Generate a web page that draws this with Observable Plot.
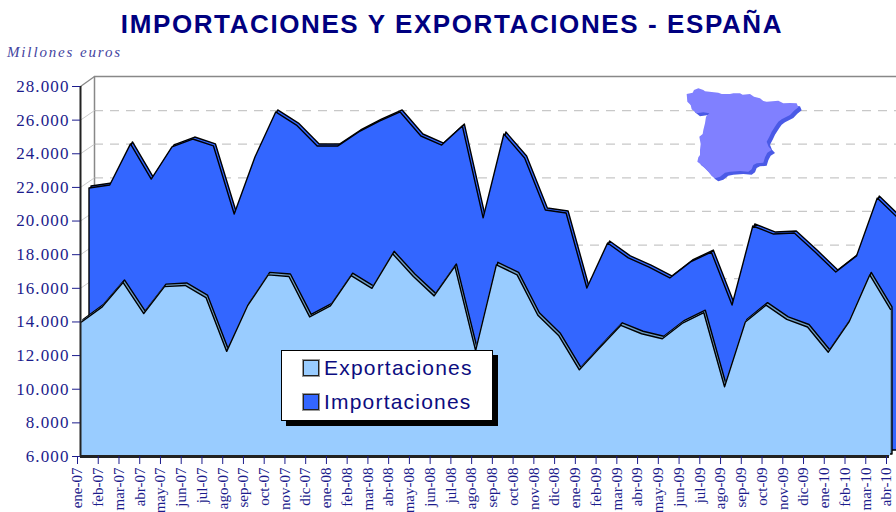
<!DOCTYPE html>
<html><head><meta charset="utf-8">
<script src="https://cdn.jsdelivr.net/npm/d3@7"></script>
<script src="https://cdn.jsdelivr.net/npm/@observablehq/plot@0.6"></script>
<style>
html,body{margin:0;padding:0;background:#fff;overflow:hidden;width:896px;height:512px}
#wrap{position:relative;width:896px;height:512px;overflow:hidden}
#title{position:absolute;left:0;width:904px;top:9px;text-align:center;font:bold 26px "Liberation Sans";letter-spacing:1.6px;color:#000080;white-space:nowrap}
#unit{position:absolute;left:7px;top:44px;font:italic 15px "Liberation Serif";letter-spacing:1.85px;color:#4444a0}
#legend{position:absolute;left:281px;top:350px;width:210px;height:69px;background:#fff;border:1px solid #000;box-shadow:5px 5px 0 #000;font:21px "Liberation Sans";letter-spacing:1.2px;color:#0c0c80}
#legend div{position:absolute;left:21px;white-space:nowrap;display:flex;align-items:center;gap:5px}
#legend i{display:block;width:14px;height:14px;border:1.5px solid #222;outline:1px solid #999}
#map{position:absolute;left:650px;top:70px}
[aria-label="y-axis tick label"] text{letter-spacing:1.1px}
</style></head><body>
<div id="wrap">
<div id="chart"></div>
<svg id="map" width="246" height="130" viewBox="0 0 738 390">
<polygon id="mapShadow" fill="#4a5ae6" transform="translate(10,9)"/>
<polygon id="mapFace" fill="#8080ff"/>
</svg>
<div id="title">IMPORTACIONES Y EXPORTACIONES - ESPAÑA</div>
<div id="unit">Millones euros</div>
<div id="legend">
<div style="top:5px"><i style="background:#99ccff"></i>Exportaciones</div>
<div style="top:39px"><i style="background:#3366ff"></i>Importaciones</div>
</div>
</div>
<script>
const months = ["ene-07","feb-07","mar-07","abr-07","may-07","jun-07","jul-07","ago-07","sep-07","oct-07","nov-07","dic-07",
"ene-08","feb-08","mar-08","abr-08","may-08","jun-08","jul-08","ago-08","sep-08","oct-08","nov-08","dic-08",
"ene-09","feb-09","mar-09","abr-09","may-09","jun-09","jul-09","ago-09","sep-09","oct-09","nov-09","dic-09",
"ene-10","feb-10","mar-10","abr-10"];
const exportaciones = [14000,14900,16350,14500,16100,16170,15450,12250,14950,16800,16700,14300,14950,16750,16000,18050,16700,15550,17300,12300,17400,16800,14400,13200,11150,12500,13800,13300,13000,13950,14550,10150,14000,15000,14150,13700,12200,14000,16800,14750];
const importaciones = [21580,21760,24200,22110,24020,24490,24080,20030,23420,26100,25320,24080,24080,24910,25560,26100,24670,24130,25260,19800,24790,23360,20270,20090,15630,18310,17420,16880,16230,17180,17770,14620,19320,18840,18900,17770,16580,17540,20980,19790];
const yTicks = [6000,8000,10000,12000,14000,16000,18000,20000,22000,24000,26000,28000];
const gridTicks = [8000,10000,12000,14000,16000,18000,20000,22000,24000,26000];
const spainOutline = [[110,72],[128,68],[132,60],[145,55],[160,60],[165,64],[205,68],[215,72],[240,72],[250,70],[270,70],[278,74],[300,72],[312,80],[330,85],[340,93],[350,95],[385,92],[400,100],[420,99],[440,100],[445,112],[432,122],[420,135],[395,148],[385,155],[378,165],[365,185],[358,200],[350,215],[356,230],[365,240],[352,248],[345,262],[340,278],[320,280],[310,285],[305,298],[295,305],[270,303],[240,305],[225,308],[210,320],[195,325],[185,318],[175,305],[160,290],[155,285],[142,275],[145,262],[150,255],[150,240],[152,222],[148,200],[158,192],[160,180],[165,160],[168,140],[178,130],[160,127],[140,130],[125,118],[122,105],[112,95]];

const pts = spainOutline.map(p=>p.join(",")).join(" ");
document.getElementById("mapShadow").setAttribute("points",pts);
document.getElementById("mapFace").setAttribute("points",pts);

const exp = exportaciones.map((v,i)=>({i,v}));
const imp = importaciones.map((v,i)=>({i,v}));
const fmt = v => d3.format(",")(v).replace(",",".");
const navy = "#1c1c8c";
const base = 6000;

const chart = Plot.plot({
  width:896, height:512,
  marginTop:86, marginBottom:56, marginLeft:80, marginRight:7,
  style:{background:"transparent",overflow:"hidden"},
  x:{type:"linear",domain:[0,39]},
  y:{domain:[6000,28000]},
  marks:[
    Plot.ruleY(gridTicks,{x1:0,x2:39,dx:14,dy:-9.6,stroke:"#c8c8c8",strokeWidth:1.3,strokeDasharray:"9 7"}),
    Plot.ruleY([28000],{x1:0,x2:39,dx:14,dy:-10,stroke:"#888",strokeWidth:1.5}),
    Plot.ruleX([0],{y1:6000,y2:28000,dx:14,dy:-10,stroke:"#888",strokeWidth:1.5}),
    Plot.link(gridTicks,{x1:()=>0,x2:()=>14/20.74,y1:d=>d,y2:d=>d+570,stroke:"#ccc",strokeWidth:1}),
    Plot.link([28000],{x1:()=>0,x2:()=>14/20.74,y1:d=>d,y2:d=>d+590,stroke:"#888",strokeWidth:1.3}),
    Plot.areaY(imp,{x:"i",y1:base,y2:"v",dx:11,dy:-8,fill:"#3366ff",stroke:"#000",strokeWidth:1.4}),
    Plot.areaY(imp,{x:"i",y1:base,y2:"v",dx:9,dy:-6,fill:"#3366ff",stroke:"#000",strokeWidth:1.4}),
    Plot.areaY(exp,{x:"i",y1:base,y2:"v",dx:3,dy:-2,fill:"#6f9fc8",stroke:"#000",strokeWidth:1.4}),
    Plot.areaY(exp,{x:"i",y1:base,y2:"v",dx:1,fill:"#99ccff"}),
    Plot.lineY(exp,{x:"i",y:"v",dx:1,stroke:"#000",strokeWidth:1.4}),
    Plot.ruleY([6000],{stroke:"#222",strokeWidth:3}),
    Plot.ruleX([0],{stroke:"#222",strokeWidth:2}),
    Plot.axisY({ticks:yTicks,tickFormat:fmt,tickSize:8,tickPadding:3,fontSize:17,fontFamily:"Liberation Serif",color:navy,tickStroke:"#000",label:null}),
    Plot.axisX({ticks:d3.range(40),tickFormat:i=>months[i],tickSize:8,tickPadding:3,tickRotate:-90,fontSize:15,fontFamily:"Liberation Serif",color:navy,label:null,dx:-3})
  ]
});
document.getElementById("chart").append(chart);
</script>
</body></html>
